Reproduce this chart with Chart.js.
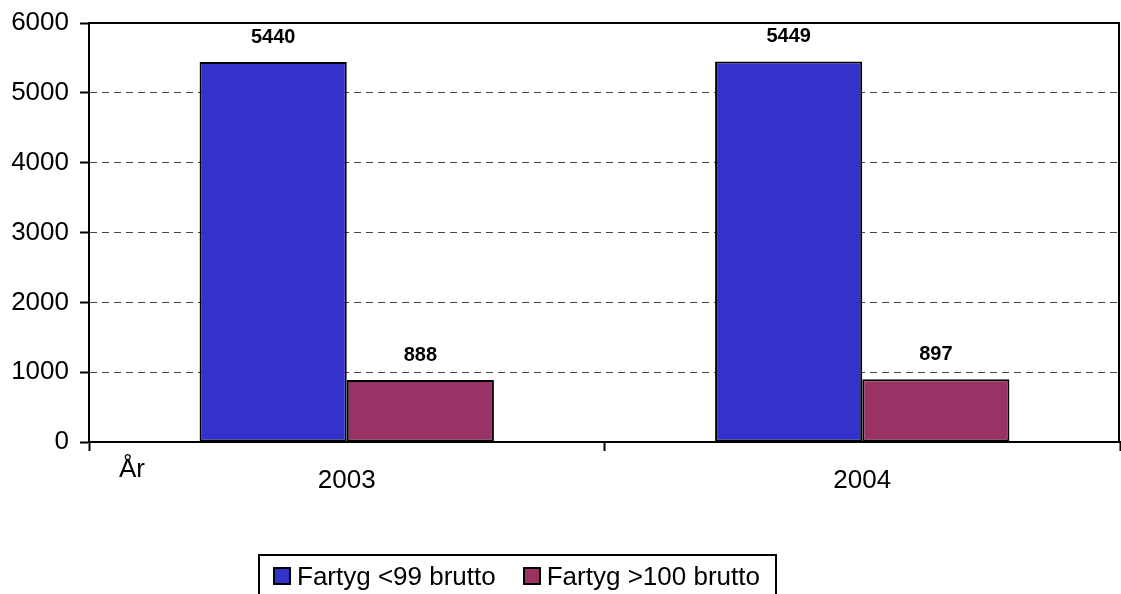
<!DOCTYPE html>
<html>
<head>
<meta charset="utf-8">
<script src="https://cdn.jsdelivr.net/npm/chart.js@4"></script>
<style>
  body { margin: 0; background: #fff; font-family: "Liberation Sans", Arial, sans-serif; overflow: hidden; }
  #wrap { position: relative; width: 1121px; height: 594px; overflow: hidden; }
  #legend {
    position: absolute; left: 258px; top: 554px; width: 519px; height: 44px;
    border: 2px solid #000; display: flex; align-items: center; justify-content: flex-start;
    padding-left: 13px; box-sizing: border-box;
    font-size: 26px; color: #000; white-space: nowrap;
  }
  .item { display: flex; align-items: center; margin-right: 27px; white-space: nowrap; }
  .box { width: 14px; height: 14px; border: 2px solid #000; margin-right: 6px; flex: none; }
</style>
</head>
<body>
<div id="wrap">
  <canvas id="chart" width="1121" height="594"></canvas>
  <div id="legend"></div>
</div>
<script>
const years = ["2003", "2004"];
const smallShips = [5440, 5449];
const largeShips = [888, 897];
const seriesNames = ["Fartyg <99 brutto", "Fartyg >100 brutto"];
const seriesColors = ["#3333cc", "#993366"];
const axisLabel = "År";

const font = "'Liberation Sans', Arial, sans-serif";

const extras = {
  id: "extras",
  afterDatasetsDraw(chart) {
    const ctx = chart.ctx;
    const area = chart.chartArea;
    ctx.save();
    // frame on top and right
    ctx.strokeStyle = "#000";
    ctx.lineWidth = 2;
    ctx.beginPath();
    ctx.moveTo(area.left, area.top);
    ctx.lineTo(area.right - 1, area.top);
    ctx.lineTo(area.right - 1, area.bottom);
    ctx.stroke();
    // value labels
    ctx.fillStyle = "#000";
    ctx.font = "bold 20px " + font;
    ctx.textAlign = "center";
    ctx.textBaseline = "middle";
    chart.data.datasets.forEach((ds, i) => {
      chart.getDatasetMeta(i).data.forEach((bar, j) => {
        ctx.fillText(String(ds.data[j]), bar.x, bar.y - 25);
      });
    });
    // axis label
    ctx.font = "26px " + font;
    ctx.textAlign = "left";
    ctx.fillText(axisLabel, area.left + 30, area.bottom + 28);
    ctx.restore();
  }
};

const chart = new Chart(document.getElementById("chart"), {
  type: "bar",
  data: {
    labels: years,
    datasets: [{
      label: seriesNames[0],
      data: smallShips,
      backgroundColor: seriesColors[0],
      borderColor: "#000",
      borderWidth: 2,
      borderSkipped: false
    }, {
      label: seriesNames[1],
      data: largeShips,
      backgroundColor: seriesColors[1],
      borderColor: "#000",
      borderWidth: 2,
      borderSkipped: false
    }]
  },
  options: {
    responsive: false,
    animation: false,
    layout: { padding: { top: 23, right: 1, bottom: 87, left: 0 } },
    categoryPercentage: 0.571,
    barPercentage: 1,
    plugins: {
      legend: { display: false },
      tooltip: { enabled: false }
    },
    scales: {
      x: {
        afterFit(scale) { scale.height = 65; },
        grid: {
          display: true,
          drawOnChartArea: false,
          drawTicks: true,
          tickLength: 9,
          tickColor: "#000",
          tickWidth: 2
        },
        border: { color: "#000", width: 2 },
        ticks: { color: "#000", font: { family: font, size: 26 }, padding: 14 }
      },
      y: {
        min: 0,
        max: 6000,
        afterFit(scale) {
          scale.width = 89;
          scale.paddingTop = 0;
          scale.paddingBottom = 0;
        },
        grid: {
          color: "#444",
          lineWidth: 1,
          tickLength: 9,
          tickColor: "#000",
          tickWidth: 2,
          tickBorderDash: []
        },
        border: { color: "#000", width: 2, dash: [7, 5] },
        ticks: {
          stepSize: 1000,
          color: "#000",
          font: { family: font, size: 26 },
          padding: 11,
          callback: v => String(v)
        }
      }
    }
  },
  plugins: [extras]
});

// legend built from the datasets
const legendEl = document.getElementById("legend");
chart.data.datasets.forEach(ds => {
  const item = document.createElement("div");
  item.className = "item";
  const box = document.createElement("span");
  box.className = "box";
  box.style.background = ds.backgroundColor;
  const text = document.createElement("span");
  text.textContent = ds.label;
  item.appendChild(box);
  item.appendChild(text);
  legendEl.appendChild(item);
});
</script>
</body>
</html>
